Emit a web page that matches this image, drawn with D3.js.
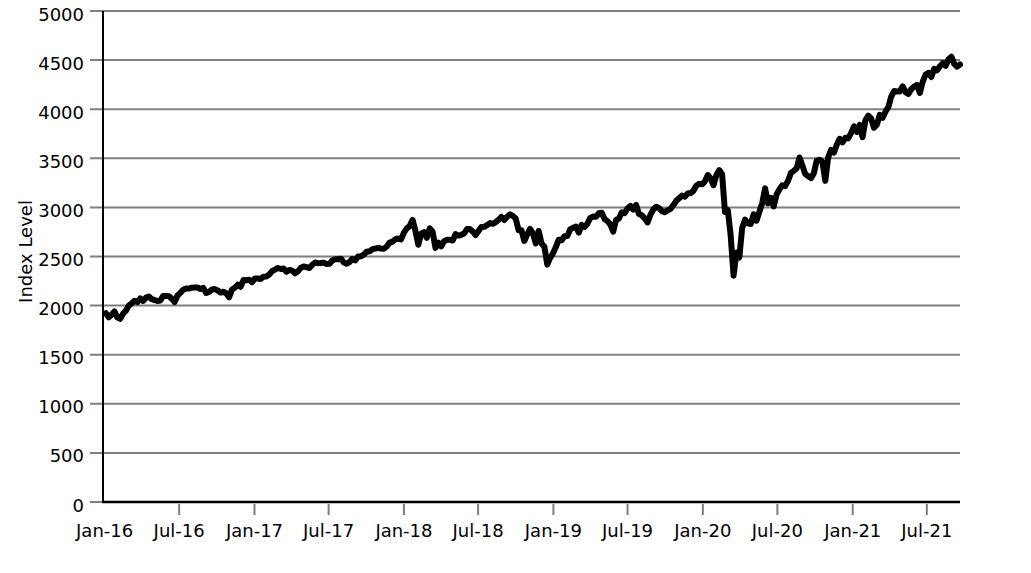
<!DOCTYPE html>
<html>
<head>
<meta charset="utf-8">
<script src="https://cdn.jsdelivr.net/npm/d3@7"></script>
<style>
  html, body { margin: 0; padding: 0; background: #fff; }
  svg { display: block; font-family: "DejaVu Sans", sans-serif; }
</style>
</head>
<body>
<svg id="chart" width="1031" height="573"></svg>
<script>
// Weekly closing levels (one value per week, week starting Monday 4 Jan 2016)
const firstWeek = "2016-01-04";
const values2016 = [1922,1880,1907,1940,1880,1865,1918,1948,2000,2022,2050,2036,2073,2048,2081,2092,2065,2057,2047,2052,2099,2099,2096,2071,2037,2103,2130,2162,2175,2174,2183,2184,2184,2169,2180,2128,2139,2165,2168,2154,2133,2141,2126,2085,2164,2182,2213,2192,2260,2258,2264,2239];
const values2017 = [2277,2275,2271,2295,2297,2316,2351,2367,2383,2373,2378,2344,2363,2356,2329,2349,2384,2399,2391,2382,2416,2439,2432,2433,2438,2423,2425,2459,2473,2472,2477,2441,2426,2443,2477,2461,2500,2502,2519,2549,2553,2575,2581,2588,2582,2579,2602,2642,2652,2676,2683,2674];
const values2018 = [2743,2786,2810,2873,2762,2620,2732,2747,2691,2787,2752,2588,2641,2604,2656,2670,2670,2663,2728,2713,2721,2735,2779,2780,2755,2718,2760,2801,2802,2819,2840,2833,2850,2875,2902,2872,2905,2930,2914,2886,2767,2768,2659,2723,2781,2736,2633,2760,2633,2600,2417,2486];
const values2019 = [2532,2596,2671,2665,2707,2708,2776,2793,2804,2743,2822,2801,2834,2893,2907,2905,2940,2946,2881,2860,2826,2752,2873,2887,2950,2942,2990,3014,2977,3026,2932,2919,2889,2847,2926,2979,3007,2992,2962,2952,2970,2986,3023,3067,3093,3120,3110,3141,3146,3169,3221,3240];
const values2020 = [3235,3265,3330,3295,3226,3328,3380,3338,2954,2972,2711,2305,2541,2489,2790,2875,2837,2831,2930,2864,2955,3044,3194,3041,3098,3009,3130,3185,3225,3216,3271,3351,3373,3397,3508,3427,3341,3319,3298,3348,3477,3484,3465,3270,3509,3585,3558,3638,3699,3663,3709,3703,3756];
const values2021 = [3825,3768,3841,3714,3887,3935,3907,3811,3842,3943,3913,3975,4020,4129,4185,4180,4181,4233,4174,4156,4204,4230,4247,4166,4281,4352,4370,4327,4412,4395,4437,4468,4442,4509,4535,4459,4433,4455];

const tickDates = ["2016-01-01","2016-07-01","2017-01-01","2017-07-01","2018-01-01","2018-07-01","2019-01-01","2019-07-01","2020-01-01","2020-07-01","2021-01-01","2021-07-01"];
const tickLabels = ["Jan-16","Jul-16","Jan-17","Jul-17","Jan-18","Jul-18","Jan-19","Jul-19","Jan-20","Jul-20","Jan-21","Jul-21"];
const yTicks = [0,500,1000,1500,2000,2500,3000,3500,4000,4500,5000];
const yLabel = "Index Level";

(function () {
const parse = d3.utcParse("%Y-%m-%d");
const allValues = [].concat(values2016, values2017, values2018, values2019, values2020, values2021);
const start = parse(firstWeek);
const data = allValues.map((v, i) => ({ date: d3.utcDay.offset(start, 7 * i), value: v }));

const svg = d3.select("#chart");
const pL = 103, pR = 960, pT = 11, pB = 502;

const x = d3.scaleUtc()
  .domain([d3.utcDay.offset(start, -7), data[data.length - 1].date])
  .range([pL, pR]);
const y = d3.scaleLinear().domain([0, 5000]).range([pB, pT]);

svg.append("rect").attr("width", 1031).attr("height", 573).attr("fill", "#fff");

// gridlines + y ticks
const gy = svg.append("g");
gy.selectAll("line").data(yTicks).join("line")
  .attr("x1", 90).attr("x2", pR)
  .attr("y1", d => y(d)).attr("y2", d => y(d))
  .attr("stroke", "#7f7f7f").attr("stroke-width", 2);
gy.selectAll("text").data(yTicks).join("text")
  .attr("x", 84).attr("y", d => y(d) + 3)
  .attr("dominant-baseline", "central")
  .attr("text-anchor", "end")
  .attr("font-size", 18).attr("fill", "#000")
  .text(d => d);

// x ticks
const tdata = tickDates.map((d, i) => ({ date: parse(d), label: tickLabels[i] }));
const gx = svg.append("g");
gx.selectAll("line").data(tdata.slice(1)).join("line")
  .attr("x1", d => x(d.date)).attr("x2", d => x(d.date))
  .attr("y1", 504).attr("y2", 515)
  .attr("stroke", "#7f7f7f").attr("stroke-width", 2);
gx.selectAll("text").data(tdata).join("text")
  .attr("x", d => x(d.date)).attr("y", 537)
  .attr("text-anchor", "middle")
  .attr("font-size", 18).attr("fill", "#000")
  .text(d => d.label);

// data line
const line = d3.line().x(d => x(d.date)).y(d => y(d.value));
svg.append("path").datum(data)
  .attr("d", line)
  .attr("fill", "none")
  .attr("stroke", "#000")
  .attr("stroke-width", 6)
  .attr("stroke-linejoin", "round")
  .attr("stroke-linecap", "round");

// axes spines
svg.append("line").attr("x1", pL).attr("x2", pL).attr("y1", pT).attr("y2", pB + 1)
  .attr("stroke", "#000").attr("stroke-width", 2);
svg.append("line").attr("x1", pL - 1).attr("x2", pR).attr("y1", pB).attr("y2", pB)
  .attr("stroke", "#000").attr("stroke-width", 2.5);

// y label
svg.append("text")
  .attr("transform", `translate(25,${(pT + pB) / 2 - 5}) rotate(-90)`)
  .attr("text-anchor", "middle")
  .attr("dominant-baseline", "central")
  .attr("font-size", 18).attr("fill", "#000")
  .text(yLabel);
})();
</script>
</body>
</html>
